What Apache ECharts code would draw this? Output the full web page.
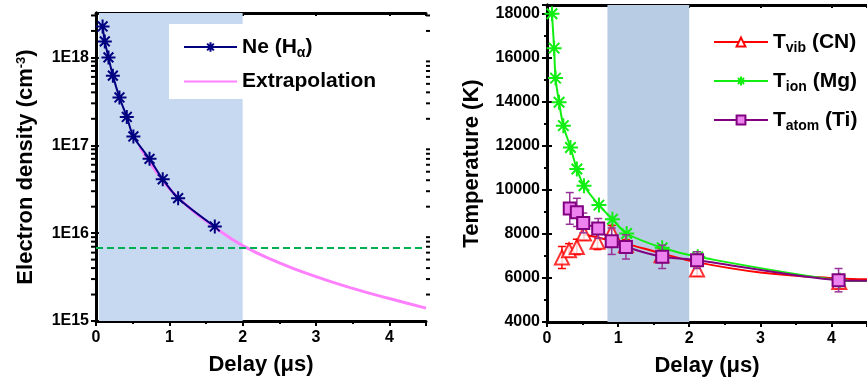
<!DOCTYPE html>
<html>
<head>
<meta charset="utf-8">
<script src="https://cdn.jsdelivr.net/npm/echarts@6/dist/echarts.min.js"></script>
<style>
  html, body { margin: 0; padding: 0; background: #fff; }
  #chart { width: 867px; height: 385px; }
</style>
</head>
<body>
<div id="chart"></div>
<script>
// left panel: electron density
const neX = [0.09, 0.12, 0.17, 0.23, 0.32, 0.42, 0.51, 0.73, 0.91, 1.12, 1.62]
const neY = [2.25e18, 1.52e18, 1.0e18, 6.2e17, 3.5e17, 2.1e17, 1.26e17, 7.0e16, 4.1e16, 2.5e16, 1.19e16]
const extraX = [0.6, 0.9, 1.2, 1.6, 2.0, 2.5, 3.0, 3.5, 4.0, 4.5]
const extraY = [9.5e16, 4.1e16, 2.2e16, 1.2e16, 7.2e15, 4.6e15, 3.2e15, 2.35e15, 1.8e15, 1.4e15]
const limitNe = 6.8e15
const shadeLeft = [0.04, 2.0]
const densityMinorTicks = [2e15, 3e15, 4e15, 5e15, 6e15, 7e15, 8e15, 9e15,
  2e16, 3e16, 4e16, 5e16, 6e16, 7e16, 8e16, 9e16,
  2e17, 3e17, 4e17, 5e17, 6e17, 7e17, 8e17, 9e17, 2e18, 3e18]

// right panel: temperatures
const ionX = [0.07, 0.1, 0.12, 0.17, 0.23, 0.33, 0.42, 0.52, 0.73, 0.92, 1.12, 1.62, 2.12, 4.12]
const ionY = [18000, 16440, 15080, 13980, 12920, 11930, 10950, 10190, 9310, 8670, 8020, 7370, 6960, 5900]
const ionEndY = 5860
const vibX = [0.21, 0.31, 0.42, 0.52, 0.71, 0.91, 1.11, 1.61, 2.11, 4.11]
const vibY = [6930, 7260, 7410, 8020, 7640, 8090, 7490, 7030, 6380, 5820]
const vibErr = [500, 300, 350, 300, 350, 300, 250, 300, 300, 300]
const vibFitX = [0.5, 0.7, 0.9, 1.1, 1.6, 2.1, 3.0, 4.1, 4.5]
const vibFitY = [8000, 7850, 7700, 7560, 7130, 6720, 6250, 5980, 5940]
const atomX = [0.32, 0.42, 0.51, 0.72, 0.91, 1.11, 1.62, 2.11, 4.1]
const atomY = [9160, 8980, 8500, 8250, 7670, 7410, 6960, 6810, 5900]
const atomErr = [720, 640, 450, 450, 600, 550, 530, 380, 530]
const atomEndY = 5870
const shadeRight = [0.85, 2.0]

const FONT = '"Liberation Sans", Arial, sans-serif'
const STAR = 'path://M10,0L10,20M0,10L20,10M3,3L17,17M3,17L17,3'

const zip = (xs, ys) => xs.map((x, i) => [x, ys[i]])
const zip3 = (xs, ys, es) => xs.map((x, i) => [x, ys[i], es[i]])

const chart = echarts.init(document.getElementById('chart'), null, { renderer: 'canvas' })

const tickLabel = { fontSize: 16, fontWeight: 'bold', color: '#000', fontFamily: FONT }
const titleStyle = {
  fontSize: 22, fontWeight: 'bold', color: '#000', fontFamily: FONT,
  rich: {
    a: { fontSize: 22, fontWeight: 'bold', color: '#000', fontFamily: FONT },
    p: { fontSize: 13, fontWeight: 'bold', color: '#000', fontFamily: FONT, verticalAlign: 'top' },
  },
}
const axisLine = { show: true, lineStyle: { color: '#000', width: 3 } }
const axisTick = { show: true, length: 5, lineStyle: { color: '#000', width: 2 } }
const minorTick = { show: true, splitNumber: 2, length: 3, lineStyle: { color: '#000', width: 2 } }

function errorBars(color) {
  return function (params, api) {
    const x = api.value(0), y = api.value(1), e = api.value(2)
    const top = api.coord([x, y + e])
    const bot = api.coord([x, y - e])
    const style = { stroke: color, lineWidth: 1.5 }
    return {
      type: 'group',
      children: [
        { type: 'line', shape: { x1: top[0], y1: top[1], x2: bot[0], y2: bot[1] }, style },
        { type: 'line', shape: { x1: top[0] - 4, y1: top[1], x2: top[0] + 4, y2: top[1] }, style },
        { type: 'line', shape: { x1: bot[0] - 4, y1: bot[1], x2: bot[0] + 4, y2: bot[1] }, style },
      ],
    }
  }
}

// minor ticks of the log axis at 2..9 x 10^n, on both frame sides
function logMinor(params, api) {
  const v = api.value(1)
  const l = api.coord([0, v])
  const r = api.coord([4.5, v])
  const style = { stroke: '#000', lineWidth: 2 }
  return {
    type: 'group',
    children: [
      { type: 'line', shape: { x1: l[0] - 5, y1: l[1], x2: l[0], y2: l[1] }, style },
      { type: 'line', shape: { x1: r[0], y1: r[1], x2: r[0] + 4, y2: r[1] }, style },
    ],
  }
}

const legendRich = {
  t: { fontSize: 21, fontWeight: 'bold', color: '#000', fontFamily: FONT, lineHeight: 26 },
  s: { fontSize: 14, fontWeight: 'bold', color: '#000', fontFamily: FONT, verticalAlign: 'bottom', lineHeight: 26, padding: [14, 0, 0, 0] },
}
const legendNames = {
  'Ne (Hα)': '{t|Ne (H}{s|α}{t|)}',
  'Extrapolation': '{t|Extrapolation}',
  'Tvib (CN)': '{t|T}{s|vib}{t| (CN)}',
  'Tion (Mg)': '{t|T}{s|ion}{t| (Mg)}',
  'Tatom (Ti)': '{t|T}{s|atom}{t| (Ti)}',
}

chart.setOption({
  animation: false,
  grid: [
    { left: 96, top: 13, width: 330, height: 308 },
    { left: 547, top: 5, width: 328, height: 317 },
  ],
  legend: [
    {
      data: ['Ne (Hα)', 'Extrapolation'],
      orient: 'vertical',
      left: 169, top: 24,
      backgroundColor: '#fff',
      padding: [8, 10, 7, 14],
      itemWidth: 53, itemHeight: 12, itemGap: 11,
      formatter: (n) => legendNames[n],
      textStyle: { rich: legendRich },
    },
    {
      data: ['Tvib (CN)', 'Tion (Mg)', 'Tatom (Ti)'],
      orient: 'vertical',
      left: 713, top: 27,
      padding: 0,
      itemWidth: 54, itemHeight: 11, itemGap: 11,
      formatter: (n) => legendNames[n],
      textStyle: { rich: legendRich },
    },
  ],
  xAxis: [
    {
      gridIndex: 0, type: 'value', position: 'bottom', min: 0, max: 4.5, interval: 1,
      name: '{a|Delay (μs)}', nameLocation: 'middle', nameGap: 33, nameTextStyle: titleStyle,
      axisLine, axisTick, minorTick, splitLine: { show: false },
      axisLabel: { ...tickLabel, margin: 9, showMaxLabel: false },
    },
    {
      gridIndex: 0, type: 'value', position: 'top', min: 0, max: 4.5, interval: 1,
      axisLine, axisTick: { ...axisTick, inside: true, length: 3 }, minorTick: { ...minorTick, show: false },
      splitLine: { show: false }, axisLabel: { show: false },
    },
    {
      gridIndex: 1, type: 'value', position: 'bottom', min: 0, max: 4.5, interval: 1,
      name: '{a|Delay (μs)}', nameLocation: 'middle', nameGap: 33, nameTextStyle: titleStyle,
      axisLine, axisTick, minorTick, splitLine: { show: false },
      axisLabel: { ...tickLabel, margin: 9, showMaxLabel: false },
    },
    {
      gridIndex: 1, type: 'value', position: 'top', min: 0, max: 4.5, interval: 1,
      axisLine, axisTick: { ...axisTick, inside: true, length: 3 },
      splitLine: { show: false }, axisLabel: { show: false },
    },
  ],
  yAxis: [
    {
      gridIndex: 0, type: 'log', logBase: 10, min: 1e15, max: 3.2e18, position: 'left',
      name: '{a|Electron density (cm}{p|-3}{a|)}', nameLocation: 'middle', nameGap: 59, nameTextStyle: titleStyle,
      axisLine, axisTick, splitLine: { show: false },
      axisLabel: {
        ...tickLabel, margin: 7, showMaxLabel: false,
        formatter: (v) => '1E' + Math.round(Math.log10(v)),
      },
    },
    {
      gridIndex: 0, type: 'log', logBase: 10, min: 1e15, max: 3.2e18, position: 'right',
      axisLine, axisTick: { ...axisTick, length: 4 }, splitLine: { show: false }, axisLabel: { show: false },
    },
    {
      gridIndex: 1, type: 'value', min: 4000, max: 18400, interval: 2000, position: 'left',
      name: '{a|Temperature (K)}', nameLocation: 'middle', nameGap: 64, nameTextStyle: titleStyle,
      axisLine, axisTick, minorTick, splitLine: { show: false },
      axisLabel: { ...tickLabel, margin: 7, showMaxLabel: false, formatter: (v) => String(v) },
    },
    {
      gridIndex: 1, type: 'value', min: 4000, max: 18400, interval: 2000, position: 'right',
      axisLine, axisTick, splitLine: { show: false }, axisLabel: { show: false },
    },
  ],
  series: [
    // ----- left panel
    {
      name: 'shadeL', type: 'line', xAxisIndex: 0, yAxisIndex: 0, data: [], z: 0,
      markArea: {
        silent: true,
        itemStyle: { color: '#c6d9f0' },
        data: [[{ xAxis: shadeLeft[0] }, { xAxis: shadeLeft[1] }]],
      },
    },
    {
      name: 'limit', type: 'line', xAxisIndex: 0, yAxisIndex: 0, data: [], z: 2,
      markLine: {
        silent: true, symbol: 'none', label: { show: false },
        lineStyle: { color: '#00b050', type: [7, 4], width: 2 },
        data: [{ yAxis: limitNe }],
      },
    },
    {
      name: 'Extrapolation', type: 'line', xAxisIndex: 0, yAxisIndex: 0,
      data: zip(extraX, extraY), smooth: true, symbol: 'none', z: 3,
      lineStyle: { color: '#ff80ff', width: 3 }, itemStyle: { color: '#ff80ff', opacity: 0 },
    },
    {
      name: 'Ne (Hα)', type: 'line', xAxisIndex: 0, yAxisIndex: 0,
      data: zip(neX, neY), smooth: 0.3, z: 4,
      symbol: STAR, symbolSize: 14,
      lineStyle: { color: '#000080', width: 2 },
      itemStyle: { color: 'transparent', borderColor: '#000080', borderWidth: 2 },
    },
    {
      name: 'minorTicks', type: 'custom', xAxisIndex: 0, yAxisIndex: 0, z: 10, clip: false,
      data: densityMinorTicks.map((v) => [1, v]), encode: { x: 0, y: 1 },
      renderItem: logMinor,
    },
    // ----- right panel
    {
      name: 'shadeR', type: 'line', xAxisIndex: 2, yAxisIndex: 2, data: [], z: 0,
      markArea: {
        silent: true,
        itemStyle: { color: '#b8cce4' },
        data: [[{ xAxis: shadeRight[0] }, { xAxis: shadeRight[1] }]],
      },
    },
    {
      name: 'Tvib (CN)', type: 'line', xAxisIndex: 2, yAxisIndex: 2,
      data: zip(vibFitX, vibFitY), smooth: 0.4, z: 3,
      symbol: 'emptyTriangle', showSymbol: false, symbolSize: 13,
      lineStyle: { color: '#ff0000', width: 2 },
      itemStyle: { color: '#ff0000', borderColor: '#ff0000', borderWidth: 2 },
    },
    {
      name: 'vibErr', type: 'custom', xAxisIndex: 2, yAxisIndex: 2, z: 4,
      data: zip3(vibX, vibY, vibErr), encode: { x: 0, y: 1 },
      renderItem: errorBars('#ff0000'),
    },
    {
      name: 'vibPts', type: 'scatter', xAxisIndex: 2, yAxisIndex: 2, z: 5,
      data: zip(vibX, vibY), symbol: 'emptyTriangle', symbolSize: 14,
      itemStyle: { color: '#ff0000', borderColor: '#ff0000', borderWidth: 2 },
    },
    {
      name: 'Tion (Mg)', type: 'line', xAxisIndex: 2, yAxisIndex: 2, z: 6,
      data: zip(ionX, ionY).concat([{ value: [4.5, ionEndY], symbol: 'none' }]), smooth: 0.3,
      symbol: STAR, symbolSize: 15,
      lineStyle: { color: '#11ee11', width: 2 },
      itemStyle: { color: 'transparent', borderColor: '#11ee11', borderWidth: 2 },
    },
    {
      name: 'atomErr', type: 'custom', xAxisIndex: 2, yAxisIndex: 2, z: 7,
      data: zip3(atomX, atomY, atomErr), encode: { x: 0, y: 1 },
      renderItem: errorBars('#993399'),
    },
    {
      name: 'Tatom (Ti)', type: 'line', xAxisIndex: 2, yAxisIndex: 2, z: 8,
      data: zip(atomX, atomY).concat([{ value: [4.5, atomEndY], symbol: 'none' }]), smooth: 0.3,
      symbol: 'rect', symbolSize: 12,
      lineStyle: { color: '#800080', width: 2 },
      itemStyle: { color: '#ee82ee', borderColor: '#800080', borderWidth: 2 },
    },
  ],
})
</script>
</body>
</html>
